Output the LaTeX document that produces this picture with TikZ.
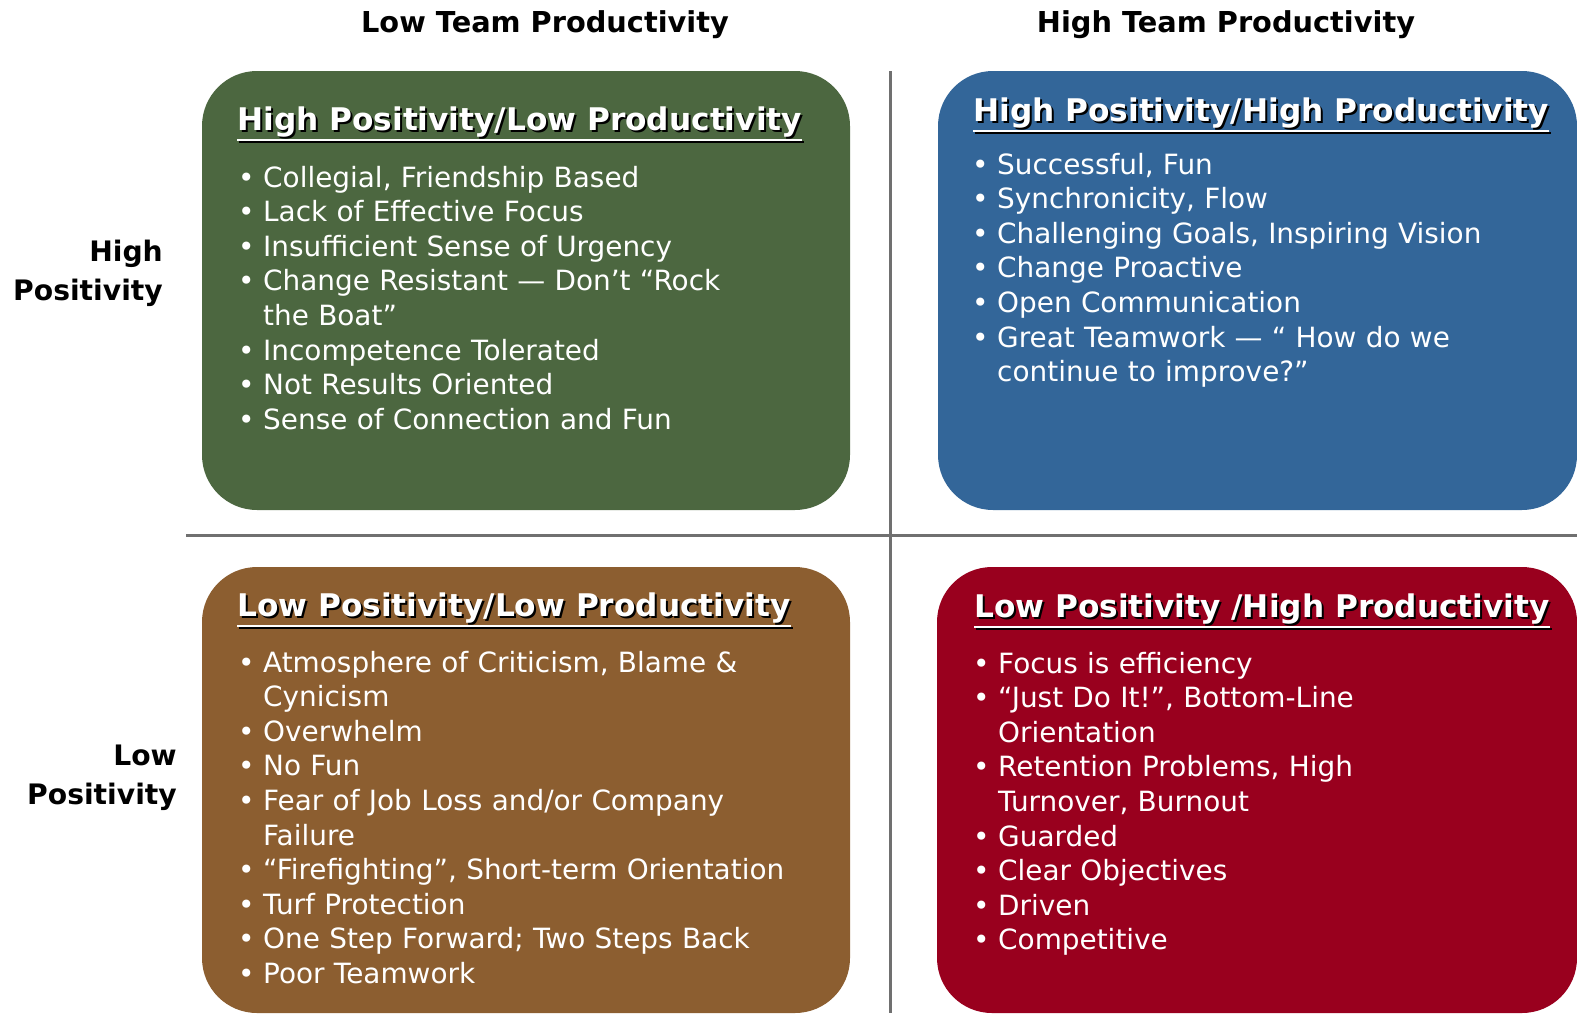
\documentclass[tikz,border=0pt]{standalone}
\usepackage{fontspec}
\setmainfont{DejaVu Sans}
\usetikzlibrary{positioning}

\definecolor{hpgreen}{RGB}{76,103,64}
\definecolor{hpblue}{RGB}{51,102,153}
\definecolor{lpbrown}{RGB}{140,94,48}
\definecolor{lpred}{RGB}{153,0,30}
\definecolor{axisgray}{RGB}{112,112,112}

% one bullet item, hanging indent for wrapped lines
\newcommand{\itm}[1]{\hangindent=25bp\hangafter=1\noindent\makebox[25bp][l]{\textbullet}#1\par}

\tikzset{
  quad/.style={rounded corners=55bp},
  axis/.style={draw=axisgray, line width=3bp},
  hdr/.style={font=\fontsize{28.8bp}{34bp}\selectfont\bfseries, inner sep=0pt, anchor=base},
  side/.style={font=\fontsize{28.2bp}{38.5bp}\selectfont\bfseries, inner sep=0pt, align=right, anchor=base east},
  ttl/.style={font=\fontsize{31.2bp}{36bp}\selectfont\bfseries, inner sep=0pt, anchor=base west, text=white},
  ttlshadow/.style={ttl, text=black, xshift=2bp, yshift=-2bp},
  items/.style={font=\fontsize{27.9bp}{34.6bp}\selectfont, text=white, text width=700bp, align=left, anchor=base west, inner sep=0pt}
}

\begin{document}
\begin{tikzpicture}[x=1bp, y=-1bp]
  \useasboundingbox (0,0) rectangle (1577,1013);

  % quadrants
  \fill[hpgreen, quad] (202,71) rectangle (850,510);
  \fill[hpblue, quad] (938,71) rectangle (1577,510);
  \fill[lpbrown, quad] (202,567) rectangle (850,1013);
  \fill[lpred, quad] (937,567) rectangle (1577,1013);

  % axes
  \coordinate (vtop) at (890,71);
  \coordinate (vbot) at (890,1013);
  \coordinate (hleft) at (186,535);
  \coordinate (hright) at (1577,535);
  \draw[axis] (vtop) -- (vbot);
  \draw[axis] (hleft) -- (hright);

  % column and row headings
  \node[hdr] (lowprod) at (545,32) {Low Team Productivity};
  \node[hdr] (highprod) at (1226,32) {High Team Productivity};
  \node[side] (highpos) at (163,300) {High\\Positivity};
  \node[side] (lowpos) at (177,804) {Low\\Positivity};

  % titles, with shadow and underline
  \node[ttlshadow] at (237,130) {High Positivity/Low Productivity};
  \node[ttl] (t1) at (237,130) {High Positivity/Low Productivity};
  \node[ttlshadow] at (973,121) {High Positivity/High Productivity};
  \node[ttl] (t2) at (973,121) {High Positivity/High Productivity};
  \node[ttlshadow] at (237,616) {Low Positivity/Low Productivity};
  \node[ttl] (t3) at (237,616) {Low Positivity/Low Productivity};
  \node[ttlshadow] at (974,617) {Low Positivity /High Productivity};
  \node[ttl] (t4) at (974,617) {Low Positivity /High Productivity};
  \foreach \t in {t1,t2,t3,t4}{
    \draw[black, line width=2.5bp] ([xshift=2bp,yshift=-12bp]\t.base west) -- ([xshift=2bp,yshift=-12bp]\t.base east);
    \draw[white, line width=2.5bp] ([yshift=-10bp]\t.base west) -- ([yshift=-10bp]\t.base east);
  }

  % lists
  \node[items] (l1) at (238,187) {%
    \itm{Collegial, Friendship Based}%
    \itm{Lack of Effective Focus}%
    \itm{Insufficient Sense of Urgency}%
    \itm{Change Resistant — Don’t “Rock\newline the Boat”}%
    \itm{Incompetence Tolerated}%
    \itm{Not Results Oriented}%
    \itm{Sense of Connection and Fun}};
  \node[items] (l2) at (972,174) {%
    \itm{Successful, Fun}%
    \itm{Synchronicity, Flow}%
    \itm{Challenging Goals, Inspiring Vision}%
    \itm{Change Proactive}%
    \itm{Open Communication}%
    \itm{Great Teamwork — “ How do we\newline continue to improve?”}};
  \node[items] (l3) at (238,672) {%
    \itm{Atmosphere of Criticism, Blame \&\newline Cynicism}%
    \itm{Overwhelm}%
    \itm{No Fun}%
    \itm{Fear of Job Loss and/or Company\newline Failure}%
    \itm{“Firefighting”, Short-term Orientation}%
    \itm{Turf Protection}%
    \itm{One Step Forward; Two Steps Back}%
    \itm{Poor Teamwork}};
  \node[items] (l4) at (973,673) {%
    \itm{Focus is efficiency}%
    \itm{“Just Do It!”, Bottom-Line\newline Orientation}%
    \itm{Retention Problems, High\newline Turnover, Burnout}%
    \itm{Guarded}%
    \itm{Clear Objectives}%
    \itm{Driven}%
    \itm{Competitive}};
\end{tikzpicture}
\end{document}
